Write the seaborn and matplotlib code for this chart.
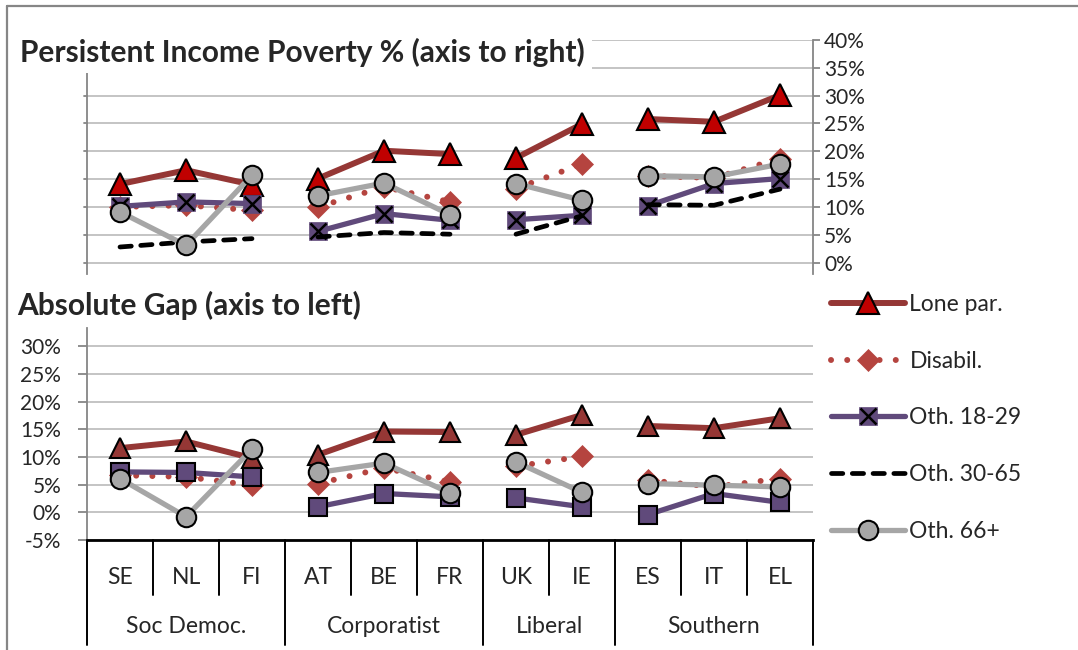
import matplotlib
matplotlib.use("Agg")
import matplotlib.pyplot as plt
import seaborn as sns
import pandas as pd
from matplotlib.lines import Line2D
from matplotlib.legend_handler import HandlerTuple
from matplotlib.transforms import blended_transform_factory

# ---- data ----
countries = ["SE", "NL", "FI", "AT", "BE", "FR", "UK", "IE", "ES", "IT", "EL"]
regimes = ["Soc Democ.", "Corporatist", "Liberal", "Southern"]
regime_of = ["Soc Democ."] * 3 + ["Corporatist"] * 3 + ["Liberal"] * 2 + ["Southern"] * 3

series = ["Lone par.", "Disabil.", "Oth. 18-29", "Oth. 30-65", "Oth. 66+"]

# persistent income poverty, % (top panel, right axis)
pov_lone = [14.1, 16.6, 14.0, 15.1, 20.1, 19.5, 18.8, 24.9, 25.8, 25.3, 30.1]
pov_disab = [10.0, 10.3, 9.4, 10.0, 13.6, 10.9, 13.3, 17.7, 15.6, 15.2, 18.7]
pov_18_29 = [10.1, 10.9, 10.6, 5.6, 8.8, 7.6, 7.7, 8.5, 10.2, 14.2, 15.1]
pov_30_65 = [2.8, 3.7, 4.3, 4.6, 5.4, 5.1, 5.1, 8.4, 10.4, 10.3, 13.2]
pov_66 = [9.1, 3.1, 15.7, 12.0, 14.3, 8.6, 14.2, 11.2, 15.6, 15.4, 17.7]

# absolute gap, % (bottom panel, left axis)
gap_lone = [11.6, 12.8, 9.8, 10.4, 14.6, 14.5, 14.0, 17.6, 15.6, 15.2, 17.0]
gap_disab = [6.7, 6.4, 4.9, 5.2, 8.0, 5.5, 8.3, 10.1, 5.8, 4.6, 6.1]
gap_18_29 = [7.3, 7.2, 6.4, 1.0, 3.4, 2.8, 2.6, 1.0, -0.4, 3.4, 1.8]
gap_66 = [6.1, -0.8, 11.4, 7.2, 8.9, 3.5, 9.1, 3.6, 5.2, 4.9, 4.6]

pov = {"Lone par.": pov_lone, "Disabil.": pov_disab, "Oth. 18-29": pov_18_29,
       "Oth. 30-65": pov_30_65, "Oth. 66+": pov_66}
gap = {"Lone par.": gap_lone, "Disabil.": gap_disab, "Oth. 18-29": gap_18_29,
       "Oth. 66+": gap_66}

rows = []
for panel, d in [("pov", pov), ("gap", gap)]:
    for s, vals in d.items():
        for i, v in enumerate(vals):
            rows.append({"panel": panel, "series": s, "pos": i, "country": countries[i],
                         "regime": regime_of[i], "value": v})
df = pd.DataFrame(rows)

# ---- styles ----
sns.set_style("white")
plt.rcParams["font.family"] = ["Lato", "DejaVu Sans"]

RED = "#953735"
DRED = "#B5443F"
PURPLE = "#604A7B"
GRAY = "#A6A6A6"
GRID = "#BFBFBF"
SPINE = "#868686"

top_style = {
    "Lone par.": dict(color=RED, lw=4.3, marker="^", ms=16, mfc="#C00000", mec="black", mew=1.5),
    "Disabil.": dict(color=DRED, lw=4.3, ls=(0, (0.01, 2.7)), marker="D", ms=11, mfc=DRED, mec=DRED, mew=0.5),
    "Oth. 18-29": dict(color=PURPLE, lw=3.8, marker="s", ms=12.5, mfc=PURPLE, mec=PURPLE, mew=0.5),
    "Oth. 30-65": dict(color="black", lw=3.4, ls=(0, (2.4, 2.0))),
    "Oth. 66+": dict(color=GRAY, lw=3.8, marker="o", ms=14, mfc=GRAY, mec="black", mew=1.5),
}
bot_style = {
    "Lone par.": dict(color=RED, lw=4.3, marker="^", ms=15, mfc=RED, mec="black", mew=1.5),
    "Disabil.": top_style["Disabil."],
    "Oth. 18-29": dict(color=PURPLE, lw=3.8, marker="s", ms=12.5, mfc=PURPLE, mec="black", mew=1.5),
    "Oth. 66+": top_style["Oth. 66+"],
}

fig = plt.figure(figsize=(10.78, 6.5), dpi=100)
ax_top = fig.add_axes([87 / 1078, 1 - 273.7 / 650, 726 / 1078, 233.7 / 650])
ax_bot = fig.add_axes([87 / 1078, 1 - 540 / 650, 726 / 1078, 212 / 650])

handles = {}
for ax, panel, styles in [(ax_top, "pov", top_style), (ax_bot, "gap", bot_style)]:
    for z, s in enumerate(series):
        if s not in styles:
            continue
        st = dict(styles[s])
        for reg in regimes:
            sub = df[(df.panel == panel) & (df.series == s) & (df.regime == reg)]
            sns.lineplot(data=sub, x="pos", y="value", ax=ax, errorbar=None, zorder=3 + z,
                         solid_capstyle="round", dash_capstyle="round", **st)
            line = ax.lines[-1]
            if panel == "pov" and s == "Oth. 18-29":
                sns.lineplot(data=sub, x="pos", y="value", ax=ax, errorbar=None, zorder=3 + z,
                             ls="", marker="x", ms=11, mec="black", mew=1.8)
                handles[s] = (line, ax.lines[-1])
            elif panel == "pov":
                handles[s] = line

for ax in (ax_top, ax_bot):
    ax.set_xlim(-0.5, 10.5)
    ax.set_xlabel("")
    ax.set_ylabel("")
    ax.grid(axis="y", color=GRID, lw=1.3)
    ax.grid(axis="x", visible=False)
    for sp in ax.spines.values():
        sp.set_visible(False)

# top panel: right axis 0-40%
ax_top.set_ylim(-2, 40)
ax_top.set_yticks(range(0, 41, 5))
ax_top.yaxis.tick_right()
ax_top.set_yticklabels([f"{v}%" for v in range(0, 41, 5)], fontsize=15)
ax_top.tick_params(axis="y", which="both", direction="out", length=5, width=1.3,
                   color=SPINE, pad=3, right=True, left=False)
ax_top.spines["right"].set_visible(True)
ax_top.spines["right"].set_color(SPINE)
ax_top.spines["right"].set_linewidth(1.3)
ax_top.spines["left"].set_visible(True)
ax_top.spines["left"].set_color(SPINE)
ax_top.spines["left"].set_linewidth(1.3)
ax_top.spines["left"].set_bounds(-2, 35)
ax_top.set_xticks([])
# left-side small ticks on top panel
for v in range(0, 36, 5):
    ax_top.plot([-0.5 - 0.045, -0.5], [v, v], color=SPINE, lw=1.3, clip_on=False, zorder=2)

# bottom panel: left axis -5..30%
ax_bot.set_ylim(-5, 33.3)
ax_bot.set_yticks(range(-5, 31, 5))
ax_bot.set_yticklabels([f"{v}%" for v in range(-5, 31, 5)], fontsize=15)
ax_bot.tick_params(axis="y", direction="out", length=6.5, width=1.3, color=SPINE, pad=12, left=True)
ax_bot.spines["left"].set_visible(True)
ax_bot.spines["left"].set_color(SPINE)
ax_bot.spines["left"].set_linewidth(1.3)
ax_bot.spines["bottom"].set_visible(True)
ax_bot.spines["bottom"].set_color("black")
ax_bot.spines["bottom"].set_linewidth(2)
ax_bot.set_xticks(range(len(countries)))
ax_bot.set_xticklabels([])
ax_bot.tick_params(axis="x", length=0)

# two-level category axis
blend = blended_transform_factory(ax_bot.transData, ax_bot.transAxes)
for i, c in enumerate(countries):
    ax_bot.text(i, -0.175, c, transform=blend, ha="center", va="center", fontsize=16.5)
bounds = [-0.5]
start = 0
for reg in regimes:
    n = regime_of.count(reg)
    ax_bot.text(start + (n - 1) / 2, -0.406, reg, transform=blend, ha="center", va="center", fontsize=16.5)
    for k in range(1, n):
        ax_bot.plot([start + k - 0.5] * 2, [0, -0.259], transform=blend, color="black", lw=1.4, clip_on=False)
    start += n
    bounds.append(start - 0.5)
for b in bounds:
    ax_bot.plot([b, b], [0, -0.495], transform=blend, color="black", lw=1.4, clip_on=False)

# titles
fig.text(20 / 1078, 1 - 52 / 650, "Persistent Income Poverty % (axis to right)", fontsize=21.5,
         fontweight="bold", va="center", ha="left",
         bbox=dict(facecolor="white", edgecolor="none", pad=5), zorder=10)
fig.text(17 / 1078, 1 - 305 / 650, "Absolute Gap (axis to left)", fontsize=21.5,
         fontweight="bold", va="center", ha="left")

# legend
leg = fig.legend([handles[s] for s in series], series, loc="upper left",
                 bbox_to_anchor=(820 / 1078, 1 - 283 / 650), frameon=False, fontsize=16.5,
                 handlelength=3.2, handletextpad=0.2, labelspacing=1.55, borderpad=0,
                 handler_map={tuple: HandlerTuple(ndivide=1, pad=0)})

# chart area border (left and top edges visible)
fig.add_artist(Line2D([7 / 1078, 7 / 1078], [0, 1 - 6 / 650], color=SPINE, lw=1.6))
fig.add_artist(Line2D([7 / 1078, 1], [1 - 6 / 650, 1 - 6 / 650], color=SPINE, lw=1.6))

fig.savefig("out.png", dpi=100, facecolor="white")
